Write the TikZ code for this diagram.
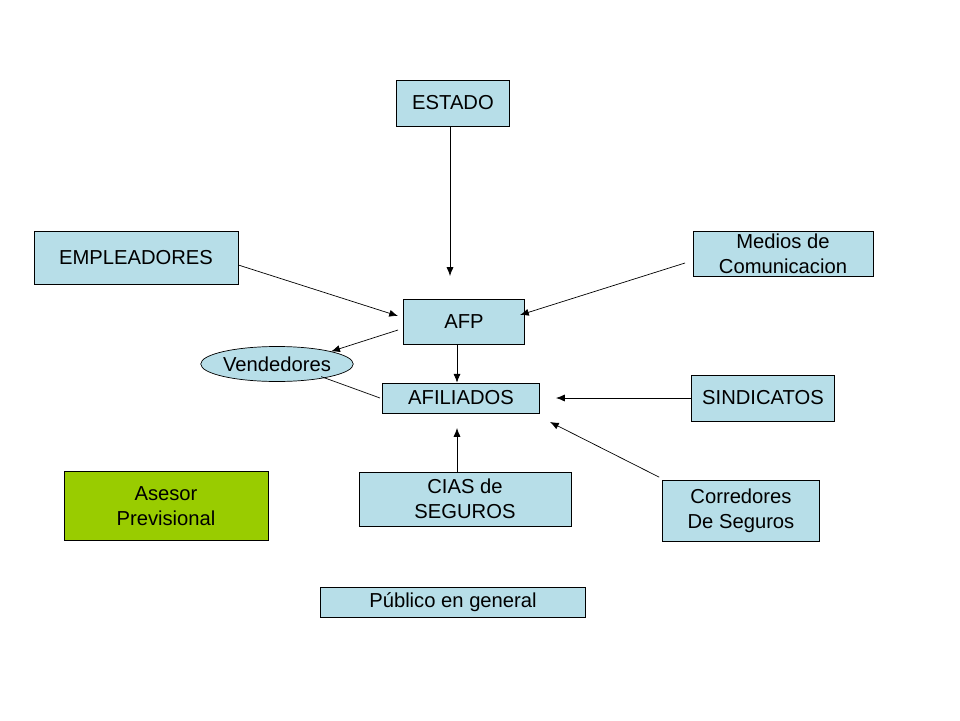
\documentclass[tikz,border=0pt]{standalone}
\usepackage{fontspec}
\setmainfont{Liberation Sans}
\usetikzlibrary{arrows.meta,shapes.geometric}
\definecolor{boxblue}{HTML}{B7DEE8}
\definecolor{boxgreen}{HTML}{99CC00}
\tikzset{
  box/.style={draw, fill=boxblue, inner sep=0pt, align=center, font=\fontsize{11.5}{14}\selectfont},
  link/.style={-{Latex[length=5pt,width=4pt]}, thin}
}
\begin{document}
\begin{tikzpicture}[x=0.02cm,y=-0.02cm]
        \useasboundingbox (0,0) rectangle (960,720);

        \node[box, minimum width=2.26cm, minimum height=0.92cm] (estado) at (453,103) {ESTADO};
        \node[box, minimum width=4.08cm, minimum height=1.06cm] (empleadores) at (136,258) {EMPLEADORES};
        \node[box, minimum width=3.6cm, minimum height=0.9cm] (medios) at (783,254) {Medios de\\Comunicacion};
        \node[box, minimum width=2.42cm, minimum height=0.9cm] (afp) at (464,322) {AFP};
        \node[box, ellipse, minimum width=3cm, minimum height=0.7cm] (vendedores) at (277,364) {Vendedores};
        \node[box, minimum width=3.14cm, minimum height=0.6cm] (afiliados) at (461,398) {AFILIADOS};
        \node[box, minimum width=2.86cm, minimum height=0.92cm] (sindicatos) at (763,398) {SINDICATOS};
        \node[box, minimum width=4.24cm, minimum height=1.08cm] (cias) at (465,499) {CIAS de\\SEGUROS};
        \node[box, fill=boxgreen, minimum width=4.08cm, minimum height=1.38cm] (asesor) at (166,506) {Asesor\\Previsional};
        \node[box, minimum width=3.14cm, minimum height=1.22cm] (corredores) at (741,511) {Corredores\\De Seguros};
        \node[box, minimum width=5.3cm, minimum height=0.6cm] (publico) at (453,602) {Público en general};

        \coordinate (estadoend) at (450,276);
        \coordinate (empleadoresend) at (398,316);
        \coordinate (mediosend) at (520,315);
        \coordinate (afpvend) at (398,330);
        \coordinate (vendafil) at (380,398);
        \coordinate (sindend) at (556,398);
        \coordinate (ciasend) at (457,428);
        \coordinate (corrend) at (550,422);

        \draw[link] (estado.south -| estadoend) -- (estadoend);
        \draw[link] (empleadores.east |- 0,265) -- (empleadoresend);
        \draw[link] (685,263) -- (mediosend);
        \draw[link] (afpvend) -- (vendedores.north east);
        \draw (vendedores.south east) ++(-10,0) -- (vendafil);
        \draw[link] (afp.south -| 457,0) -- (afiliados.north -| 457,0);
        \draw[link] (sindicatos.west) -- (sindend);
        \draw[link] (cias.north -| 457,0) -- (ciasend);
        \draw[link] (corredores.north west) ++(-3,-3) -- (corrend);
    \end{tikzpicture}
\end{document}
